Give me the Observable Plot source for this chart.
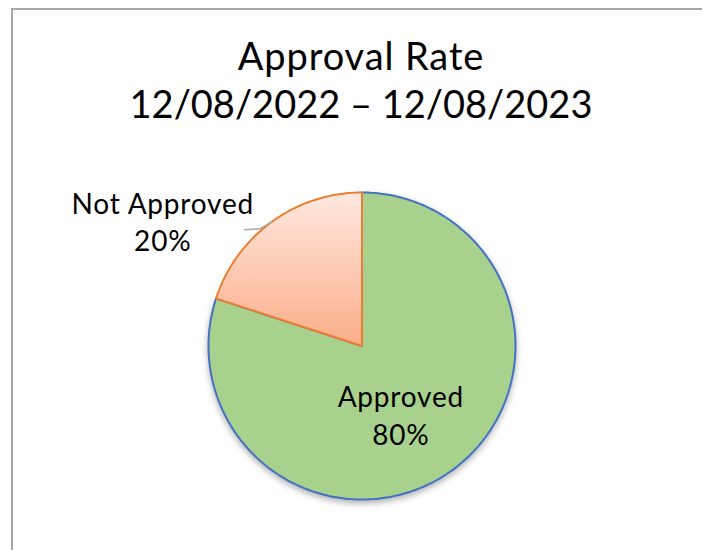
<!DOCTYPE html>
<html><head><meta charset="utf-8">
<script src="https://cdn.jsdelivr.net/npm/d3@7"></script>
<script src="https://cdn.jsdelivr.net/npm/@observablehq/plot@0.6"></script>
<style>
html,body{margin:0;padding:0;background:#fff;}
#wrap{position:relative;width:702px;height:550px;overflow:hidden;}
#frame{position:absolute;left:11px;top:8px;width:800px;height:700px;border-top:2px solid #a8a8a8;border-left:2px solid #a8a8a8;box-sizing:border-box;}
#chart{position:absolute;left:0;top:0;}
.lbl text{letter-spacing:0.8px;}
.ttl tspan:first-child{letter-spacing:0.9px;}
</style></head><body>
<div id="wrap"><div id="frame"></div><div id="chart"></div></div>
<script>
// ---- data ----
const categories = ["Approved", "Not Approved"];
const values = [80, 20];
const titleLines = ["Approval Rate", "12/08/2022 \u2013 12/08/2023"];

// ---- styling ----
const sliceFill = {"Approved": "#a9d18e", "Not Approved": "#fcc2a6"};
const sliceStroke = {"Approved": "#4472c4", "Not Approved": "#ed7d31"};
const R = 153.5; // pie radius in px (matches x/y ranges below)

const total = d3.sum(values);
const data = categories.map((c, i) => ({cat: c, value: values[i], pct: Math.round(values[i] / total * 100) + "%"}));
const arcs = d3.pie().sort(null).value(d => d.value)(data);

// slice outlines generated from the pie angles
const slicePts = arcs.flatMap(a => {
  const n = Math.max(4, Math.ceil((a.endAngle - a.startAngle) / (2 * Math.PI) * 360));
  const pts = [{cat: a.data.cat, x: 0, y: 0}];
  for (let i = 0; i <= n; i++) {
    const t = a.startAngle + (a.endAngle - a.startAngle) * i / n;
    pts.push({cat: a.data.cat, x: Math.sin(t), y: Math.cos(t)});
  }
  return pts;
});

const mid = a => (a.startAngle + a.endAngle) / 2;
const inside = arcs[0], outside = arcs[1];
const kIn = 0.53;
const inLabel = [{x: Math.sin(mid(inside)) * kIn, y: Math.cos(mid(inside)) * kIn,
                  text: inside.data.cat + "\n" + inside.data.pct}];
const mo = mid(outside);
const p0 = {x: Math.sin(mo), y: Math.cos(mo)};
const p1 = {x: p0.x - 12 / R, y: p0.y - 7 / R};
const p2 = {x: p1.x - 15 / R, y: p1.y - 1 / R};
const leader = [p0, p1, p2];
const outLabel = [{x: p2.x - 82 / R, y: p2.y + 8 / R, text: outside.data.cat + "\n" + outside.data.pct}];

const chart = Plot.plot({
  width: 702, height: 550, margin: 0,
  style: {fontFamily: "Lato, sans-serif", background: "transparent", color: "#000"},
  x: {domain: [-1, 1], range: [208, 515], axis: null},
  y: {domain: [-1, 1], range: [499, 192], axis: null},
  marks: [
    ...categories.map(c => Plot.line(slicePts.filter(d => d.cat === c), {
      x: "x", y: "y", curve: "linear-closed",
      fill: sliceFill[c], stroke: sliceStroke[c], strokeWidth: 2
    })),
    Plot.line(leader, {x: "x", y: "y", stroke: "#a6a6a6", strokeWidth: 1.5}),
    Plot.text(inLabel, {x: "x", y: "y", text: "text", fontSize: 28, lineHeight: 38 / 28, dx: -9, dy: 2, fill: "#000"}),
    Plot.text(outLabel, {x: "x", y: "y", text: "text", fontSize: 28, lineHeight: 37 / 28, dy: -1, fill: "#000"}),
    Plot.text([titleLines.join("\n")], {x: () => 0, frameAnchor: "top", dy: 78, dx: -1, text: d => d,
      fontSize: 38, lineHeight: 48 / 38, lineAnchor: "middle", fill: "#000"})
  ]
});

// gradient + soft shadow, applied after rendering
const ns = "http://www.w3.org/2000/svg";
const defs = document.createElementNS(ns, "defs");
const grad = document.createElementNS(ns, "linearGradient");
grad.setAttribute("id", "naGrad");
grad.setAttribute("x1", "0"); grad.setAttribute("y1", "0"); grad.setAttribute("x2", "0"); grad.setAttribute("y2", "1");
[["0", "#ffe8e0"], ["1", "#fbad89"]].forEach(([o, c]) => {
  const s = document.createElementNS(ns, "stop");
  s.setAttribute("offset", o); s.setAttribute("stop-color", c); grad.appendChild(s);
});
defs.appendChild(grad);
chart.insertBefore(defs, chart.firstChild);

const gs = chart.querySelectorAll("g[aria-label='line']");
if (gs[1]) { gs[1].setAttribute("fill", "url(#naGrad)"); gs[1].querySelectorAll("path").forEach(p => p.setAttribute("fill", "url(#naGrad)")); }
if (gs[0]) gs[0].style.filter = "drop-shadow(0px 3px 3px rgba(0,0,0,0.3))";
chart.querySelectorAll("g[aria-label='text']").forEach((g, i) => { g.classList.add(i < 2 ? "lbl" : "ttl"); });

document.getElementById("chart").appendChild(chart);
</script>
</body></html>
